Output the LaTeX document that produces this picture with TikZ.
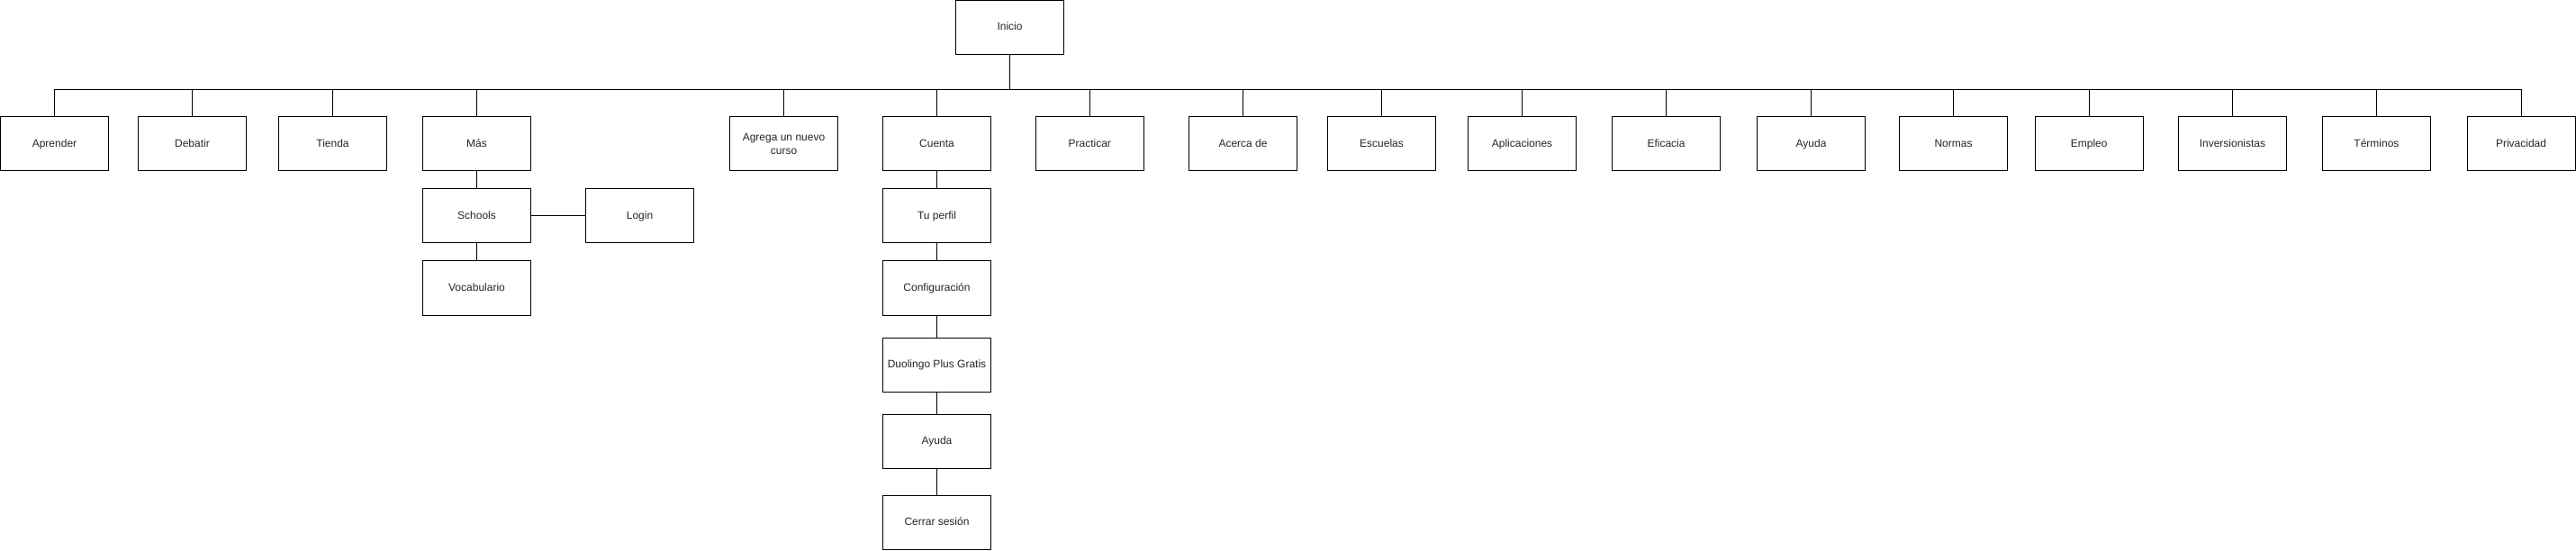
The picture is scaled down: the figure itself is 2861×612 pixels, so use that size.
\documentclass[tikz,border=0pt]{standalone}
\usepackage{fontspec}
\setmainfont{Liberation Sans}
\begin{document}
\begin{tikzpicture}[x=1pt,y=-1pt,
  box/.style={draw=black, line width=1pt, fill=white, minimum width=120pt, minimum height=60pt,
    inner sep=0pt, align=center, font=\fontsize{12}{14.4}\selectfont, text=black!85,
    text height=8.7pt, text depth=2.6pt},
  twoline/.style={text height={}, text depth={}},
  link/.style={draw=black, line width=1pt}]
\useasboundingbox (0,0) rectangle (2861,612);
% top
\node[box] (inicio) at (1121.5,30.5) {Inicio};
\coordinate (bus) at (1121.5,100);
% first row
\node[box] (aprender) at (60.5,160) {Aprender};
\node[box] (debatir) at (213.5,160) {Debatir};
\node[box] (tienda) at (369.5,160) {Tienda};
\node[box] (mas) at (529.5,160) {Más};
\node[box,twoline] (agrega) at (870.5,160) {Agrega un nuevo\\curso};
\node[box] (cuenta) at (1040.5,160) {Cuenta};
\node[box] (practicar) at (1210.3,160) {Practicar};
\node[box] (acerca) at (1380.5,160) {Acerca de};
\node[box] (escuelas) at (1534.5,160) {Escuelas};
\node[box] (aplicaciones) at (1690.5,160) {Aplicaciones};
\node[box] (eficacia) at (1850.5,160) {Eficacia};
\node[box] (ayuda) at (2011.5,160) {Ayuda};
\node[box] (normas) at (2169.5,160) {Normas};
\node[box] (empleo) at (2320.2,160) {Empleo};
\node[box] (inversionistas) at (2479.4,160) {Inversionistas};
\node[box] (terminos) at (2639.4,160) {Términos};
\node[box] (privacidad) at (2800,160) {Privacidad};
% Más branch
\node[box] (schools) at (529.5,240) {Schools};
\node[box] (vocabulario) at (529.5,320) {Vocabulario};
\node[box] (login) at (710.5,240) {Login};
% Cuenta branch
\node[box] (perfil) at (1040.5,240) {Tu perfil};
\node[box] (config) at (1040.5,320) {Configuración};
\node[box] (duolingo) at (1040.5,405) {Duolingo Plus Gratis};
\node[box] (ayuda2) at (1040.5,490) {Ayuda};
\node[box] (cerrar) at (1040.5,580) {Cerrar sesión};
% connectors
\draw[link] (inicio.south) -- (bus);
\foreach \n in {aprender,debatir,tienda,mas,agrega,cuenta,practicar,acerca,escuelas,
  aplicaciones,eficacia,ayuda,normas,empleo,inversionistas,terminos,privacidad}
  \draw[link] (bus) -| (\n.north);
\draw[link] (mas.south) -- (schools.north);
\draw[link] (schools.south) -- (vocabulario.north);
\draw[link] (schools.east) -- (login.west);
\draw[link] (cuenta.south) -- (perfil.north);
\draw[link] (perfil.south) -- (config.north);
\draw[link] (config.south) -- (duolingo.north);
\draw[link] (duolingo.south) -- (ayuda2.north);
\draw[link] (ayuda2.south) -- (cerrar.north);
\end{tikzpicture}
\end{document}
